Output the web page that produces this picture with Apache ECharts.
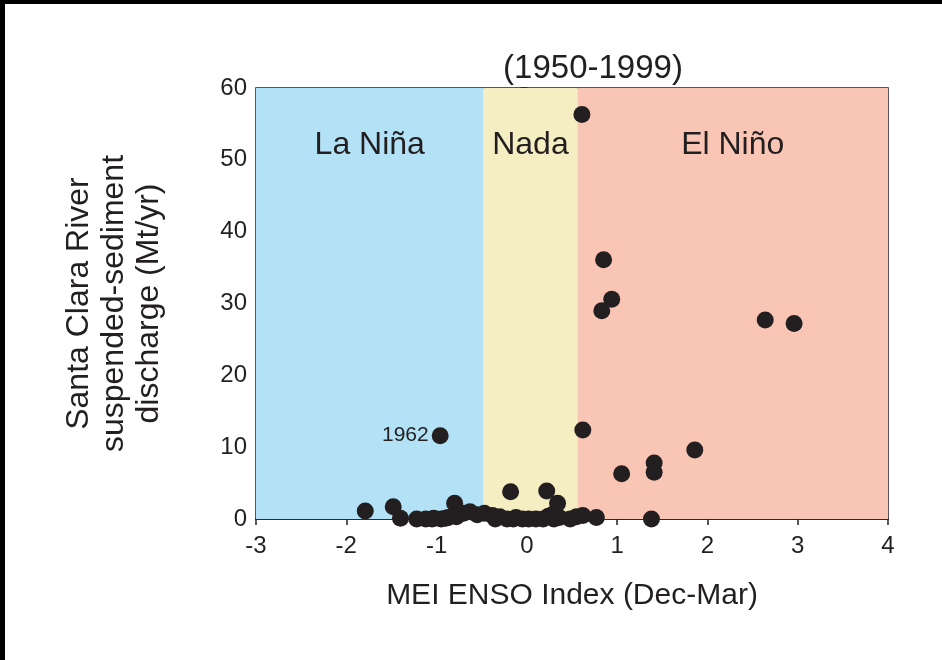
<!DOCTYPE html>
<html><head><meta charset="utf-8">
<script src="https://cdn.jsdelivr.net/npm/echarts@6/dist/echarts.min.js"></script>
<style>
html,body{margin:0;padding:0;background:#000;width:942px;height:660px;overflow:hidden}
#c{position:absolute;left:5px;top:4px;width:937px;height:656px;background:#fff}
</style></head><body><div id="c"></div>
<script>
var titleText = '(1950-1999)';
var xName = 'MEI ENSO Index (Dec-Mar)';
var yName = 'Santa Clara River\nsuspended-sediment\ndischarge (Mt/yr)';
var xTicks = [-3, -2, -1, 0, 1, 2, 3, 4];
var yTicks = [0, 10, 20, 30, 40, 50, 60];
var regionNames = ['La Niña', 'Nada', 'El Niño'];
var regionBounds = [[-3, -0.48], [-0.48, 0.56], [0.56, 4]];
var regionColors = ['#b3e2f7', '#f5eec2', '#f9c6b6'];
var meiIndex = [0.61, 0.85, 0.94, 0.83, 2.64, 2.96, -0.96, 0.62, 1.86, 1.41, 1.41, 1.05,
  -0.18, 0.22, 0.34, -0.80, -1.48, -1.79,
  -1.40, -1.22, -1.12, -1.03, -0.95, -0.87, -0.78, -0.70, -0.63, -0.55, -0.47, -0.38,
  -0.30, -0.22, -0.12, -0.05, 0.02, 0.18, 0.24, 0.30, 0.36, 0.48, 0.55, 0.62, 0.77,
  -1.05, -0.90, -0.15, 0.28, 1.38, -0.35, 0.10];
var discharge = [56.3, 36.1, 30.6, 29.0, 27.7, 27.2, 11.6, 12.4, 9.6, 7.8, 6.5, 6.3,
  3.8, 3.9, 2.2, 2.2, 1.7, 1.1,
  0.1, 0, 0, 0.1, 0, 0.2, 0.3, 0.8, 1.0, 0.6, 0.8, 0.5,
  0.3, 0, 0.2, 0, 0, 0, 0.4, 0, 0.2, 0, 0.3, 0.5, 0.2,
  0, 0.1, 0, 0.6, 0, 0, 0];
var labeledIndex = 6;
var labeledText = '1962';

var ink = '#231f20';
var font = 'Liberation Sans, Arial, sans-serif';
var pts = meiIndex.map(function (x, i) {
  var p = { value: [x, discharge[i]] };
  if (i === labeledIndex) {
    p.label = { show: true, position: 'left', distance: 3, formatter: labeledText,
      color: ink, fontSize: 21, fontFamily: font };
  }
  return p;
});
var areas = regionNames.map(function (n, i) {
  return [{ xAxis: regionBounds[i][0], name: n, itemStyle: { color: regionColors[i] } },
          { xAxis: regionBounds[i][1] }];
});

var chart = echarts.init(document.getElementById('c'));
chart.setOption({
  animation: false,
  title: { text: titleText, left: 583, top: 43, textAlign: 'center',
    textStyle: { color: ink, fontSize: 33, fontWeight: 'normal', fontFamily: font } },
  grid: { left: 251, top: 84, right: 54, bottom: 141, show: true, borderColor: ink, borderWidth: 1.5 },
  xAxis: {
    type: 'value', min: xTicks[0], max: xTicks[xTicks.length - 1], interval: 1,
    name: xName, nameLocation: 'middle', nameGap: 62,
    nameTextStyle: { color: ink, fontSize: 30, fontFamily: font },
    axisLine: { lineStyle: { color: ink, width: 1.5 } },
    axisTick: { show: true, inside: false, length: 6, lineStyle: { color: ink, width: 1.5 } },
    axisLabel: { color: ink, fontSize: 24, fontFamily: font, margin: 15 },
    splitLine: { show: false }
  },
  yAxis: {
    type: 'value', min: yTicks[0], max: yTicks[yTicks.length - 1], interval: 10,
    name: yName, nameLocation: 'middle', nameGap: 89, nameRotate: 90,
    nameTextStyle: { color: ink, fontSize: 32, fontFamily: font, lineHeight: 35, align: 'center' },
    axisLine: { lineStyle: { color: ink, width: 1.5 } },
    axisTick: { show: true, inside: false, length: 6, lineStyle: { color: ink, width: 1.5 } },
    axisLabel: { color: ink, fontSize: 24, fontFamily: font, margin: 9 },
    splitLine: { show: false }
  },
  series: [{
    type: 'scatter', symbol: 'circle', symbolSize: 17,
    itemStyle: { color: ink, opacity: 1 },
    data: pts,
    markArea: {
      silent: true,
      label: { show: true, position: 'insideTop', distance: 41, color: ink, fontSize: 32, fontFamily: font },
      data: areas
    },
    z: 3
  }]
});
</script></body></html>
